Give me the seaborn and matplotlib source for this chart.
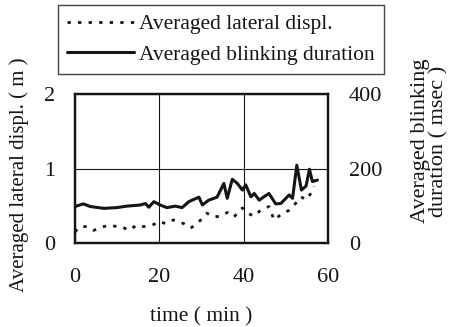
import numpy as np
import pandas as pd
import seaborn as sns
import matplotlib.pyplot as plt

# Averaged lateral displacement (m)
displ_time = [0.0, 1.2, 2.8, 4.4, 6.8, 8.3, 9.9, 11.1, 12.7, 14.7, 16.3, 18.3,
              20.2, 21.4, 23.4, 25.8, 27.4, 29.0, 31.3, 32.9, 34.5, 36.1, 37.7,
              39.7, 40.9, 42.5, 44.0, 46.0, 47.2, 48.8, 50.8, 52.0, 53.6, 54.8,
              56.0, 56.7]
displ_value = [0.15, 0.22, 0.22, 0.17, 0.22, 0.24, 0.22, 0.22, 0.17, 0.24, 0.22,
               0.24, 0.29, 0.26, 0.31, 0.26, 0.20, 0.26, 0.40, 0.35, 0.36, 0.41,
               0.35, 0.47, 0.40, 0.36, 0.44, 0.49, 0.31, 0.38, 0.44, 0.51, 0.62,
               0.58, 0.67, 0.76]

# Averaged blinking duration (msec)
blink_time = [0.0, 2.0, 3.6, 6.8, 9.9, 12.3, 15.5, 16.7, 17.5, 18.7, 20.2, 21.8,
              23.8, 25.4, 27.0, 29.4, 30.2, 31.7, 33.7, 35.3, 36.1, 37.3, 38.5,
              39.7, 40.5, 41.7, 42.5, 43.7, 44.8, 46.0, 47.6, 48.8, 50.8, 51.6,
              52.6, 53.7, 54.8, 55.6, 56.3, 57.5]
blink_value = [98, 105, 98, 93, 95, 99, 102, 106, 96, 111, 102, 95, 99, 95, 111,
               123, 102, 115, 123, 160, 120, 171, 160, 142, 156, 124, 133, 115,
               124, 133, 105, 106, 129, 120, 209, 142, 153, 198, 165, 169]

x_ticks = [0, 20, 40, 60]
left_ticks = [0, 1, 2]
right_ticks = [0, 200, 400]

sns.set_theme(style="white")
plt.rcParams['font.family'] = ['Liberation Serif', 'DejaVu Serif']

fs = 16
ink = '#151515'
W, H = 449, 327
fig = plt.figure(figsize=(W / 100, H / 100), dpi=100)
ax = fig.add_axes([75 / W, (H - 243) / H, 253 / W, 149 / H])
ax2 = ax.twinx()

df_displ = pd.DataFrame({'time': displ_time, 'value': displ_value})
df_blink = pd.DataFrame({'time': blink_time, 'value': blink_value})

sns.lineplot(data=df_displ, x='time', y='value', ax=ax, color=ink,
             linewidth=2.0)
ax.lines[-1].set_dashes((1.2, 2.6))
sns.lineplot(data=df_blink, x='time', y='value', ax=ax2, color=ink,
             linewidth=2.2)

ax.set_xlim(0, 60)
ax.set_ylim(0, 2)
ax2.set_ylim(0, 400)
ax.set_xticks(x_ticks)
ax.set_yticks(left_ticks)
ax2.set_yticks(right_ticks)

ax.grid(True, color=ink, linewidth=0.8)
ax.set_axisbelow(True)

for a in (ax, ax2):
    for s in a.spines.values():
        s.set_color(ink)
        s.set_linewidth(1.6)
    a.tick_params(length=0, labelsize=fs, colors=ink)
    a.set_xlabel('')
    a.set_ylabel('')
ax.tick_params(axis='x', pad=18)
ax.tick_params(axis='y', pad=14)
ax2.tick_params(axis='y', pad=15)

# axis titles placed in pixel positions of the reference
fig.text(201 / W, 1 - 317 / H, 'time ( min )', ha='center', va='center',
         fontsize=15.5, color=ink)
fig.text(19 / W, 1 - 175 / H, 'Averaged lateral displ. ( m )', rotation=90,
         ha='center', va='center', fontsize=15, color=ink)
fig.text(430 / W, 1 - 141 / H, 'Averaged blinking\nduration ( msec )',
         rotation=90, ha='center', va='center', fontsize=fs, color=ink,
         linespacing=0.95)

handles = [ax.lines[0], ax2.lines[0]]
labels = ['Averaged lateral displ.', 'Averaged blinking duration']
leg = fig.legend(handles, labels, loc='upper left',
                 bbox_to_anchor=(58 / W, 1 - 5 / H), frameon=True,
                 fancybox=False, edgecolor=ink, handlelength=3.1,
                 handletextpad=0.25, labelspacing=0.5, borderpad=0.42,
                 borderaxespad=0, fontsize=15.5)
leg.get_frame().set_linewidth(1.0)
for t in leg.get_texts():
    t.set_color(ink)

fig.savefig('out.png', dpi=100)
